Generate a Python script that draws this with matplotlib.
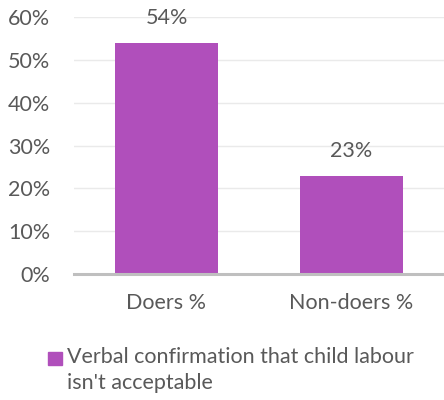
import matplotlib.pyplot as plt
from matplotlib.patches import Rectangle
from matplotlib.ticker import PercentFormatter

categories = ["Doers %", "Non-doers %"]
values = [54, 23]
series_name = "Verbal confirmation that child labour\nisn't acceptable"

bar_color = "#B04FBB"
text_color = "#595959"
fs = 15.5

plt.rcParams['font.family'] = ['Lato', 'DejaVu Sans']

fig = plt.figure(figsize=(4.44, 4.0), dpi=100)
ax = fig.add_axes([74 / 444, 1 - 274 / 400, 1 - 74 / 444, (274 - 17.3) / 400])

x = range(len(categories))
bars = ax.bar(x, values, width=0.557, color=bar_color, zorder=2)

for b, v in zip(bars, values):
    ax.annotate(f"{v}%", (b.get_x() + b.get_width() / 2, v),
                xytext=(0, 18), textcoords="offset points",
                ha="center", va="center", fontsize=fs, color=text_color)

ax.set_xlim(-0.5, 1.5)
ax.set_ylim(0, 60)
ax.set_yticks(range(0, 61, 10))
ax.yaxis.set_major_formatter(PercentFormatter(decimals=0))
ax.set_xticks(list(x))
ax.set_xticklabels(categories)

ax.grid(axis="y", color="#EAEAEA", linewidth=1, zorder=0)
for s in ["top", "right", "left"]:
    ax.spines[s].set_visible(False)
ax.spines["bottom"].set_color("#BFBFBF")
ax.spines["bottom"].set_linewidth(2.2)
ax.spines["bottom"].set_zorder(3)

ax.tick_params(axis="y", length=0, pad=17, labelsize=fs, labelcolor=text_color)
ax.tick_params(axis="x", length=0, pad=14, labelsize=fs, labelcolor=text_color)

# legend: square swatch plus wrapped series name
fig.patches.append(Rectangle((48 / 444, 1 - 365 / 400), 14 / 444, 13 / 400,
                             transform=fig.transFigure, color=bar_color))
fig.text(67 / 444, 1 - 347 / 400, series_name, ha="left", va="top",
         fontsize=fs, color=text_color, linespacing=1.38,
         transform=fig.transFigure)

fig.savefig("out.png", dpi=100)
